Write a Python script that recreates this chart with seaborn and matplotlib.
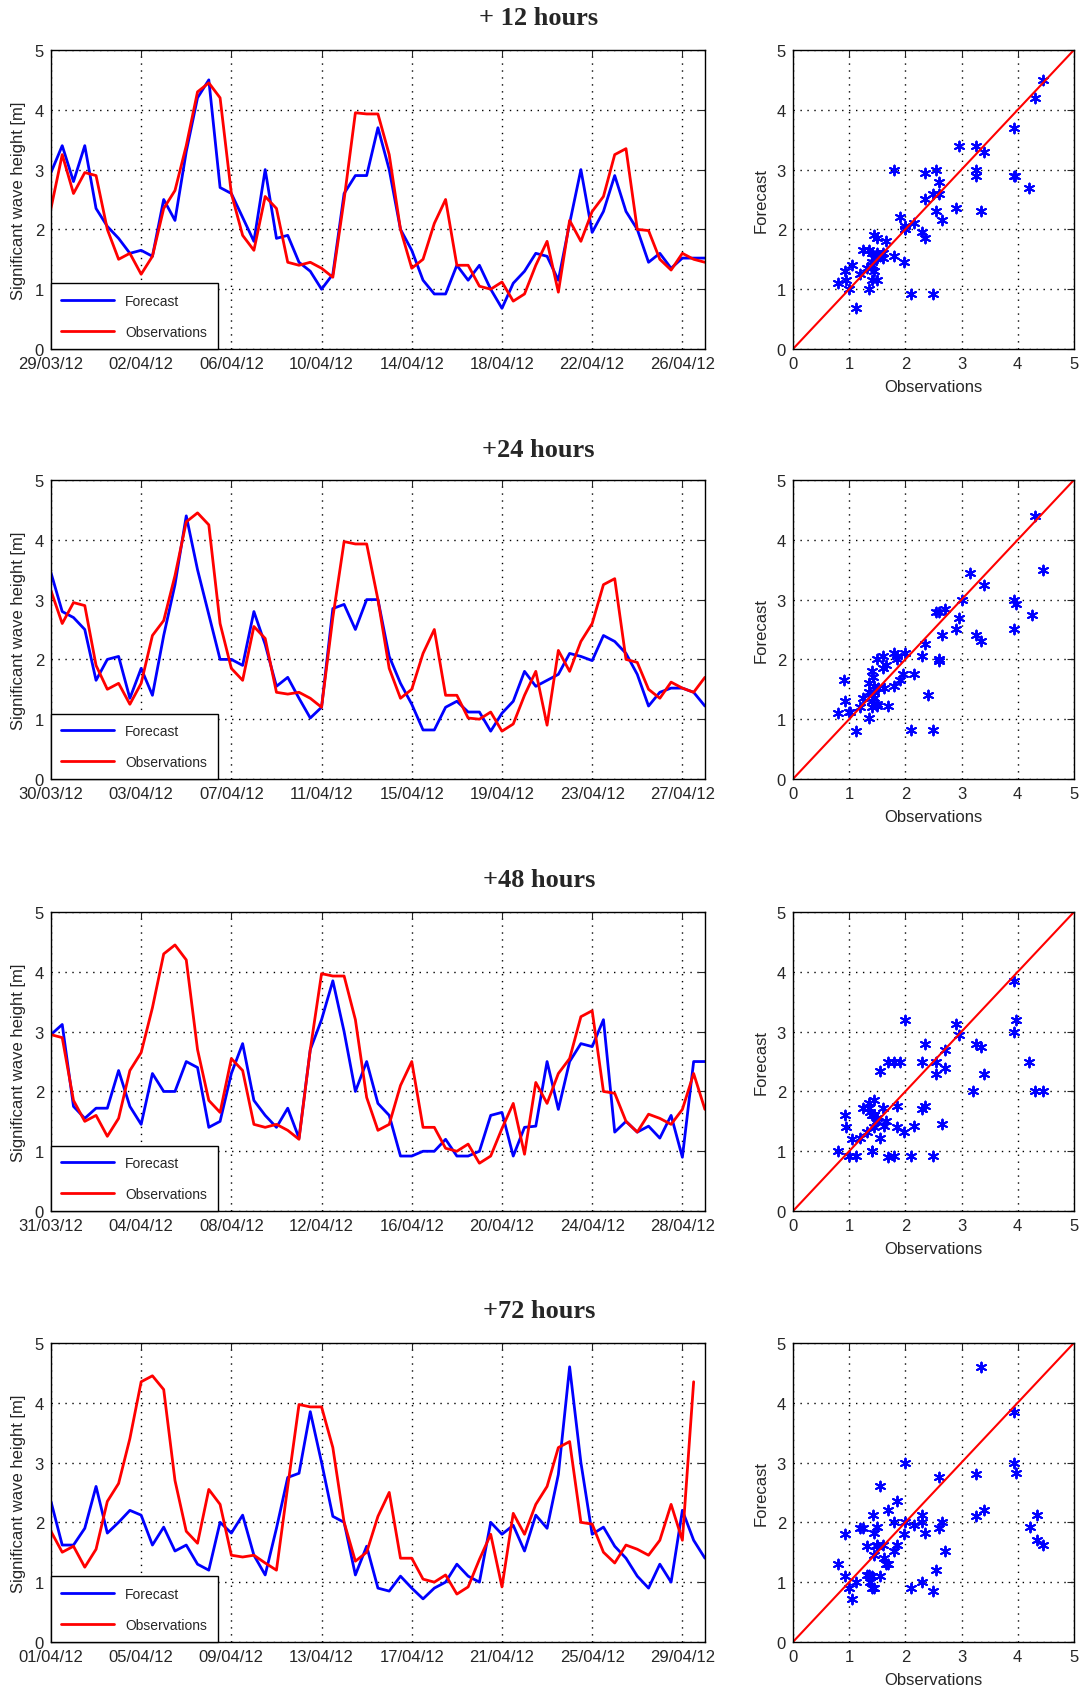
import matplotlib
matplotlib.use("Agg")
import matplotlib.pyplot as plt
import matplotlib.dates as mdates
import numpy as np
import pandas as pd
import seaborn as sns

####################################################
# significant wave height, 12-hourly, forecast vs buoy observations
titles = ["+ 12 hours", "+24 hours", "+48 hours", "+72 hours"]
start_days = ["2012-03-29", "2012-03-30", "2012-03-31", "2012-04-01"]

fc12 = [2.95, 3.4, 2.8, 3.4, 2.35, 2.05, 1.85, 1.6, 1.65, 1.55,
        2.5, 2.15, 3.3, 4.2, 4.5, 2.7, 2.6, 2.2, 1.8, 3.0,
        1.85, 1.9, 1.45, 1.3, 1.0, 1.25, 2.6, 2.9, 2.9, 3.7,
        3.0, 2.0, 1.65, 1.15, 0.92, 0.92, 1.4, 1.15, 1.4, 1.0,
        0.68, 1.1, 1.3, 1.6, 1.55, 1.15, 2.1, 3.0, 1.95, 2.3,
        2.9, 2.3, 2.0, 1.45, 1.6, 1.35, 1.52, 1.52, 1.52]
obs12 = [2.35, 3.25, 2.6, 2.95, 2.9, 2.0, 1.5, 1.6, 1.25, 1.55,
         2.35, 2.65, 3.4, 4.3, 4.45, 4.2, 2.6, 1.9, 1.65, 2.55,
         2.35, 1.45, 1.4, 1.45, 1.35, 1.2, 2.5, 3.95, 3.93, 3.93,
         3.25, 2.0, 1.35, 1.5, 2.1, 2.5, 1.4, 1.4, 1.05, 1.0,
         1.12, 0.8, 0.92, 1.4, 1.8, 0.95, 2.15, 1.8, 2.3, 2.55,
         3.25, 3.35, 2.0, 1.98, 1.5, 1.32, 1.6, 1.5, 1.45]

fc24 = [3.45, 2.8, 2.7, 2.5, 1.65, 2.0, 2.05, 1.35, 1.85, 1.4,
        2.4, 3.25, 4.4, 3.5, 2.75, 2.0, 2.0, 1.9, 2.8, 2.25,
        1.55, 1.7, 1.35, 1.02, 1.2, 2.85, 2.92, 2.5, 3.0, 3.0,
        2.05, 1.6, 1.25, 0.82, 0.82, 1.2, 1.3, 1.12, 1.12, 0.8,
        1.1, 1.3, 1.8, 1.55, 1.65, 1.75, 2.1, 2.05, 1.98, 2.4,
        2.3, 2.1, 1.75, 1.22, 1.45, 1.52, 1.52, 1.45, 1.22]
obs24 = [3.15, 2.6, 2.95, 2.9, 1.9, 1.5, 1.6, 1.25, 1.6, 2.4,
         2.65, 3.4, 4.3, 4.45, 4.25, 2.6, 1.85, 1.65, 2.55, 2.35,
         1.45, 1.42, 1.45, 1.35, 1.2, 2.7, 3.97, 3.93, 3.93, 3.0,
         1.85, 1.35, 1.5, 2.1, 2.5, 1.4, 1.4, 1.02, 1.0, 1.12,
         0.8, 0.92, 1.4, 1.8, 0.9, 2.15, 1.8, 2.3, 2.6, 3.25,
         3.35, 2.0, 1.95, 1.5, 1.35, 1.62, 1.52, 1.45, 1.7]

fc48 = [2.95, 3.12, 1.75, 1.55, 1.72, 1.72, 2.35, 1.75, 1.45, 2.3,
        2.0, 2.0, 2.5, 2.4, 1.4, 1.5, 2.3, 2.8, 1.85, 1.6,
        1.4, 1.72, 1.22, 2.7, 3.2, 3.85, 3.0, 2.0, 2.5, 1.8,
        1.6, 0.92, 0.92, 1.0, 1.0, 1.2, 0.92, 0.92, 1.0, 1.6,
        1.65, 0.92, 1.4, 1.42, 2.5, 1.7, 2.5, 2.8, 2.75, 3.2,
        1.32, 1.5, 1.32, 1.42, 1.22, 1.6, 0.9, 2.5, 2.5]
obs48 = [2.95, 2.9, 1.85, 1.5, 1.6, 1.25, 1.55, 2.35, 2.65, 3.4,
         4.3, 4.45, 4.2, 2.7, 1.85, 1.65, 2.55, 2.35, 1.45, 1.4,
         1.45, 1.35, 1.2, 2.7, 3.97, 3.93, 3.93, 3.2, 1.9, 1.35,
         1.45, 2.1, 2.5, 1.4, 1.4, 1.05, 1.0, 1.12, 0.8, 0.92,
         1.38, 1.8, 0.95, 2.15, 1.8, 2.3, 2.55, 3.25, 3.35, 2.0,
         1.97, 1.5, 1.32, 1.62, 1.55, 1.45, 1.7, 2.3, 1.7]

fc72 = [2.35, 1.62, 1.62, 1.9, 2.6, 1.82, 2.0, 2.2, 2.12, 1.62,
        1.92, 1.52, 1.62, 1.3, 1.2, 2.0, 1.82, 2.12, 1.45, 1.12,
        1.9, 2.75, 2.82, 3.85, 3.0, 2.1, 2.0, 1.12, 1.6, 0.9,
        0.85, 1.1, 0.9, 0.72, 0.9, 1.0, 1.3, 1.1, 1.0, 2.0,
        1.8, 1.95, 1.52, 2.12, 1.9, 2.8, 4.6, 3.0, 1.8, 1.92,
        1.6, 1.4, 1.1, 0.9, 1.3, 1.0, 2.2, 1.7, 1.4]
obs72 = [1.85, 1.5, 1.6, 1.25, 1.55, 2.35, 2.65, 3.4, 4.35, 4.45,
         4.22, 2.7, 1.85, 1.65, 2.55, 2.3, 1.45, 1.42, 1.45, 1.32,
         1.2, 2.6, 3.97, 3.93, 3.93, 3.25, 2.0, 1.35, 1.5, 2.1,
         2.5, 1.4, 1.4, 1.05, 1.0, 1.12, 0.8, 0.92, 1.38, 1.8,
         0.92, 2.15, 1.8, 2.3, 2.6, 3.25, 3.35, 2.0, 1.97, 1.5,
         1.32, 1.62, 1.55, 1.45, 1.7, 2.3, 1.7, 4.35, np.nan]

forecasts = [fc12, fc24, fc48, fc72]
observations = [obs12, obs24, obs48, obs72]

####################################################
sns.set_style("white")
plt.rcParams['font.family'] = ['Liberation Sans', 'DejaVu Sans']
plt.rcParams['font.size'] = 12

fig = plt.figure(figsize=(10.84, 16.99), dpi=100)

bottoms = [0.7940, 0.5409, 0.2866, 0.0330]
title_y = [0.989, 0.735, 0.4815, 0.2278]
grid_style = dict(linestyle=(0, (1, 4)), color="black", linewidth=1.0)

for k in range(4):
    t0 = pd.Timestamp(start_days[k])
    times = t0 + pd.to_timedelta(np.arange(len(forecasts[k])) * 12, unit="h")
    df = pd.DataFrame({"time": times, "Forecast": forecasts[k], "Observations": observations[k]})

    # time series
    ax = fig.add_axes([0.0470, bottoms[k], 0.6033, 0.1760])
    sns.lineplot(x="time", y="Forecast", data=df, ax=ax, color="blue", lw=2, label="Forecast")
    sns.lineplot(x="time", y="Observations", data=df, ax=ax, color="red", lw=2, label="Observations")
    ax.set_xlim(t0, t0 + pd.Timedelta(days=29))
    ax.set_ylim(0, 5)
    ax.set_yticks(range(6))
    ax.set_xticks(pd.date_range(t0, periods=8, freq="4D"))
    ax.xaxis.set_major_formatter(mdates.DateFormatter("%d/%m/%y"))
    ax.grid(True, **grid_style)
    ax.set_xlabel("")
    ax.set_ylabel("Significant wave height [m]", labelpad=6)
    ax.tick_params(direction="in", length=5, top=True, right=True, pad=5)
    for s in ax.spines.values():
        s.set_color("black")
        s.set_linewidth(1)
    ax.legend(loc="lower left", borderaxespad=0, fancybox=False, edgecolor="black",
              framealpha=1, handlelength=3.8, labelspacing=1.2, borderpad=0.75, fontsize=10)
    ax.get_legend().get_frame().set_linewidth(1)

    # scatter forecast vs observations
    ax2 = fig.add_axes([0.7315, bottoms[k], 0.2592, 0.1760])
    sns.scatterplot(x="Observations", y="Forecast", data=df, ax=ax2, marker=(6, 2, 0),
                    color="blue", edgecolor="blue", s=50, linewidth=1.4)
    ax2.axline((0, 0), slope=1, color="red", lw=1.5)
    ax2.set_xlim(0, 5)
    ax2.set_ylim(0, 5)
    ax2.set_xticks(range(6))
    ax2.set_yticks(range(6))
    ax2.grid(True, **grid_style)
    ax2.set_xlabel("Observations", labelpad=6)
    ax2.set_ylabel("Forecast", labelpad=6)
    ax2.tick_params(direction="in", length=5, top=True, right=True, pad=5)
    for s in ax2.spines.values():
        s.set_color("black")
        s.set_linewidth(1)

    fig.text(0.497, title_y[k], titles[k], ha="center", va="center",
             fontsize=19, fontweight="bold", family="Liberation Serif")

plt.savefig("out.png", dpi=100)
